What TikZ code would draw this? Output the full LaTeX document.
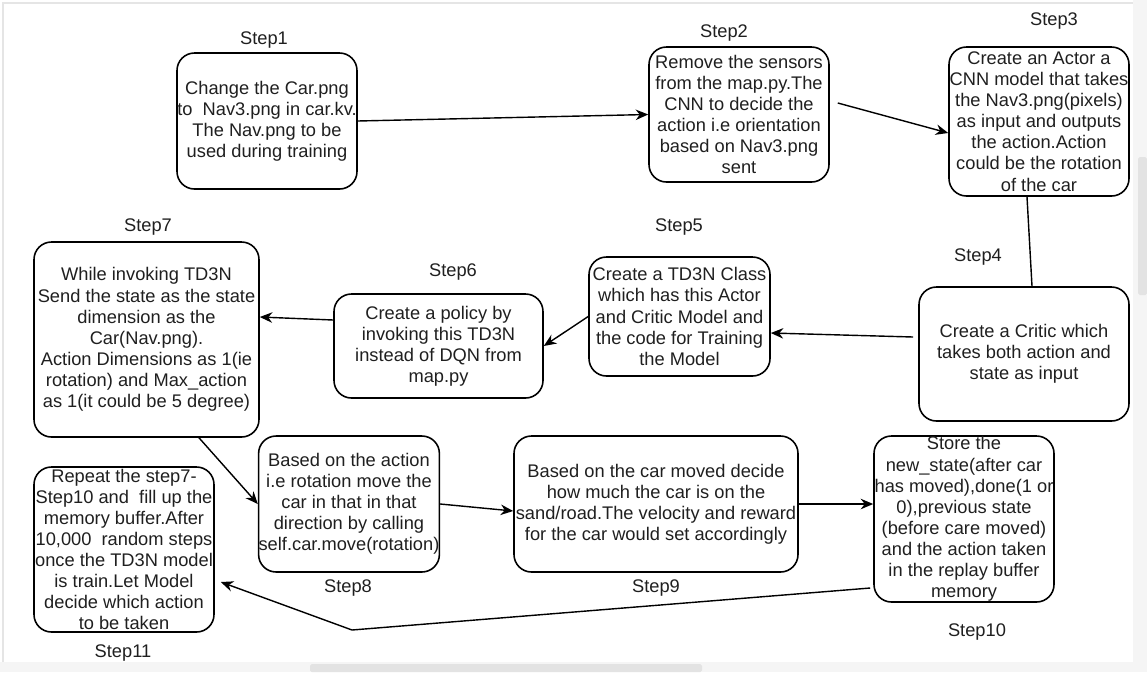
\documentclass[tikz,border=0pt]{standalone}
\usepackage{fontspec}
\setmainfont{Liberation Sans}
\usepackage{tikz}
\usetikzlibrary{arrows.meta}
\usetikzlibrary{positioning}
\usepackage{xcolor}

\begin{document}
\begin{tikzpicture}[every node/.style={font=\fontsize{10.4}{12}\selectfont, text=black!88},
    stepbox/.style={draw=black, line width=0.9pt, rounded corners=3.5mm, align=center, inner sep=0pt},
    steplabel/.style={inner sep=0pt},
    >={Stealth[length=2.5mm, width=2.1mm]}]
			% screenshot frame
			\useasboundingbox (0,0) rectangle (22.94,-13.44);
			\fill[gray!8] (22.66,0) rectangle (22.94,-13.44);
			\fill[gray!8] (0,-13.24) rectangle (22.94,-13.44);
			\fill[gray!22, rounded corners=1pt] (6.2,-13.28) rectangle (14.04,-13.44);
			\fill[gray!22, rounded corners=1pt] (22.76,-3.14) rectangle (22.94,-5.9);
			\draw[gray!20, line width=1.2pt] (0.06,-13.24) -- (0.06,-0.06) -- (22.66,-0.06);
			
			% boxes of the steps
			\node[stepbox, minimum width=3.6cm, minimum height=2.72cm] (S1) at (5.34,-2.42) {Change the Car.png\\to~ Nav3.png in car.kv.\\The Nav.png to be\\used during training};
			\node[stepbox, minimum width=3.6cm, minimum height=2.7cm] (S2) at (14.78,-2.29) {Remove the sensors\\from the map.py.The\\CNN to decide the\\action i.e orientation\\based on Nav3.png\\sent};
			\node[stepbox, minimum width=3.6cm, minimum height=2.98cm] (S3) at (20.78,-2.43) {Create an Actor a\\CNN model that takes\\the Nav3.png(pixels)\\as input and outputs\\the action.Action\\could be the rotation\\of the car};
			\node[stepbox, minimum width=4.2cm, minimum height=2.68cm] (S4) at (20.48,-7.08) {Create a Critic which\\takes both action and\\state as input};
			\node[stepbox, minimum width=3.62cm, minimum height=2.38cm] (S5) at (13.59,-6.33) {Create a TD3N Class\\which has this Actor\\and Critic Model and\\the code for Training\\the Model};
			\node[stepbox, minimum width=4.18cm, minimum height=2.08cm] (S6) at (8.77,-6.92) {Create a policy by\\invoking this TD3N\\instead of DQN from\\map.py};
			\node[stepbox, minimum width=4.5cm, minimum height=3.9cm] (S7) at (2.93,-6.79) {While invoking TD3N\\Send the state as the state\\dimension as the\\Car(Nav.png).\\Action Dimensions as 1(ie\\rotation) and Max\_action\\as 1(it could be 5 degree)};
			\node[stepbox, minimum width=3.6cm, minimum height=2.72cm] (S8) at (6.98,-10.08) {Based on the action\\i.e rotation move the\\car in that in that\\direction by calling\\self.car.move(rotation)};
			\node[stepbox, minimum width=5.68cm, minimum height=2.72cm] (S9) at (13.12,-10.08) {Based on the car moved decide\\how much the car is on the\\sand/road.The velocity and reward\\for the car would set accordingly};
			\node[stepbox, minimum width=3.6cm, minimum height=3.32cm] (S10) at (19.28,-10.38) {Store the\\new\_state(after car\\has moved),done(1 or\\0),previous state\\(before care moved)\\and the action taken\\in the replay buffer\\memory};
			\node[stepbox, minimum width=3.6cm, minimum height=3.3cm] (S11) at (2.48,-10.99) {Repeat the step7-\\Step10 and~ fill up the\\memory buffer.After\\10,000~ random steps\\once the TD3N model\\is train.Let Model\\decide which action\\to be taken};
			
			% labels
			\node[steplabel] (L1) at (5.28,-0.8) {Step1};
			\node[steplabel] (L2) at (14.48,-0.66) {Step2};
			\node[steplabel] (L3) at (21.08,-0.42) {Step3};
			\node[steplabel] (L4) at (19.56,-5.14) {Step4};
			\node[steplabel] (L5) at (13.58,-4.54) {Step5};
			\node[steplabel] (L6) at (9.06,-5.44) {Step6};
			\node[steplabel] (L7) at (2.96,-4.54) {Step7};
			\node[steplabel] (L8) at (6.96,-11.76) {Step8};
			\node[steplabel] (L9) at (13.12,-11.76) {Step9};
			\node[steplabel] (L10) at (19.54,-12.64) {Step10};
			\node[steplabel] (L11) at (2.46,-13.06) {Step11};
			
			% connectors
			\coordinate (bend) at (7.04,-12.6);
			\draw[->, line width=0.8pt] (S1.east) -- (S2.west);
			\draw[->, line width=0.8pt] ([shift={(0.16,0.23)}]S2.east) -- ([yshift=-0.23cm]S3.west);
			\draw[line width=0.8pt] ([xshift=-0.24cm]S3.south) -- ([xshift=0.16cm]S4.north);
			\draw[->, line width=0.8pt] ([shift={(-0.1,0.34)}]S4.west) -- ([yshift=-0.33cm]S5.east);
			\draw[->, line width=0.8pt] (S5.west) -- (S6.east);
			\draw[->, line width=0.8pt] ([yshift=0.52cm]S6.west) -- ([yshift=0.45cm]S7.east);
			\draw[->, line width=0.8pt] ([xshift=1.05cm]S7.south) -- (S8.west);
			\draw[->, line width=0.8pt] (S8.east) -- ([yshift=-0.14cm]S9.west);
			\draw[->, line width=0.8pt] (S9.east) -- (S9.east -| S10.west);
			\draw[->, line width=0.8pt] ([shift={(-0.06,-1.38)}]S10.west) -- (bend) -- ([shift={(0.12,-0.65)}]S11.east);
		\end{tikzpicture}
\end{document}
